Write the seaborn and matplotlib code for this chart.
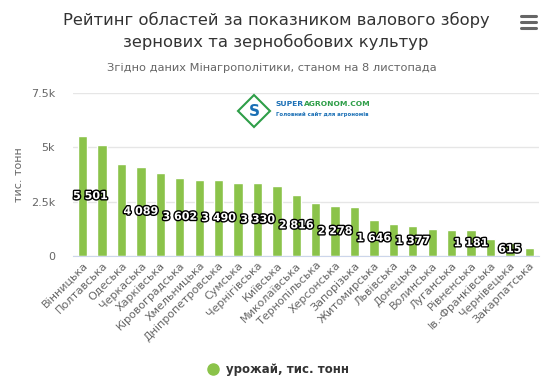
import matplotlib
matplotlib.use('Agg')
import matplotlib.pyplot as plt
import matplotlib.patheffects as pe
from matplotlib.lines import Line2D
from matplotlib.ticker import FuncFormatter, FixedLocator
import pandas as pd
import seaborn as sns

# Data
regions = ['Вінницька', 'Полтавська', 'Одеська', 'Черкаська', 'Харківська',
           'Кіровоградська', 'Хмельницька', 'Дніпропетровська', 'Сумська',
           'Чернігівська', 'Київська', 'Миколаївська', 'Тернопільська',
           'Херсонська', 'Запорізька', 'Житомирська', 'Львівська', 'Донецька',
           'Волинська', 'Луганська', 'Рівненська', 'Ів.-Франківська',
           'Чернівецька', 'Закарпатська']
harvest = [5501, 5090, 4220, 4089, 3810, 3602, 3495, 3490, 3340, 3330, 3210,
           2816, 2430, 2278, 2250, 1646, 1460, 1377, 1230, 1190, 1181, 780,
           615, 380]
# labels that Highcharts kept visible
shown_labels = [0, 3, 5, 7, 9, 11, 13, 15, 17, 20, 22]

df = pd.DataFrame({'region': regions, 'harvest': harvest})

green = '#8bc34a'
sns.set_style('white')
plt.rcParams['font.family'] = ['DejaVu Sans']

W, H = 550, 379
fig = plt.figure(figsize=(W / 100, H / 100), dpi=100)
ax = fig.add_axes([73 / W, 1 - 256 / H, (539 - 73) / W, (256 - 92.7) / H])

sns.barplot(data=df, x='region', y='harvest', color=green, width=0.48,
            saturation=1, ax=ax)

ax.set_xlim(-0.5, len(regions) - 0.5)
ax.set_ylim(0, 7500)
ax.set_yticks([0, 2500, 5000, 7500])
ax.yaxis.set_major_formatter(FuncFormatter(
    lambda v, p: '0' if v == 0 else f'{v / 1000:g}k'))
ax.yaxis.grid(True, color='#e6e6e6', linewidth=1)
ax.set_axisbelow(True)
for s in ['top', 'right', 'left']:
    ax.spines[s].set_visible(False)
ax.spines['bottom'].set_color('#ccd6eb')
ax.tick_params(axis='y', length=0, labelsize=8, labelcolor='#666666', pad=13)
ax.tick_params(axis='x', which='major', length=0, labelsize=8,
               labelcolor='#666666', pad=3)
ax.xaxis.set_minor_locator(FixedLocator([i - 0.5 for i in range(len(regions) + 1)]))
ax.tick_params(axis='x', which='minor', length=7, color='#ccd6eb', width=1)
plt.setp(ax.get_xticklabels(), rotation=45, ha='right', rotation_mode='anchor')
ax.set_xlabel('')
ax.set_ylabel('тис. тонн', color='#666666', fontsize=8, labelpad=5)

# data labels (first one is pushed inside the plot area, like Highcharts does)
for i in shown_labels:
    v = harvest[i]
    x, ha = (i, 'center') if i > 0 else (-0.5, 'left')
    ax.text(x, v / 2, f'{v:,}'.replace(',', ' '), ha=ha, va='center',
            color='white', fontsize=8, fontweight='bold',
            path_effects=[pe.withStroke(linewidth=2, foreground='black')])

# titles
fig.text(276 / W, 1 - 20 / H, 'Рейтинг областей за показником валового збору',
         ha='center', va='center', fontsize=11.8, color='#333333')
fig.text(276 / W, 1 - 42 / H, 'зернових та зернобобових культур',
         ha='center', va='center', fontsize=11.8, color='#333333')
fig.text(272 / W, 1 - 68 / H, 'Згідно даних Мінагрополітики, станом на 8 листопада',
         ha='center', va='center', fontsize=8.2, color='#666666')

# hamburger menu
for dy in (16, 22, 28):
    fig.add_artist(Line2D([521 / W, 536 / W], [1 - dy / H] * 2, color='#666666',
                          linewidth=2.2, transform=fig.transFigure))

# watermark logo
fig.add_artist(Line2D([254 / W], [1 - 111 / H], marker='D', markersize=16,
                      markerfacecolor='white', markeredgecolor='#2e9e48',
                      markeredgewidth=1.5, transform=fig.transFigure))
fig.text(254 / W, 1 - 111 / H, 'S', ha='center', va='center', fontsize=11,
         fontweight='bold', color='#1a6fb5')
t1 = fig.text(276 / W, 1 - 104 / H, 'SUPER', ha='left', va='center',
              fontsize=5.4, fontweight='bold', color='#1a6fb5')
fig.canvas.draw()
bb = t1.get_window_extent()
fig.text(bb.x1 / W, 1 - 104 / H, 'AGRONOM.COM', ha='left', va='center',
         fontsize=5.4, fontweight='bold', color='#2e9e48')
fig.text(276 / W, 1 - 114 / H, 'Головний сайт для агрономів', ha='left',
         va='center', fontsize=3.9, fontweight='bold', color='#1a6fb5')

# legend
fig.add_artist(Line2D([213 / W], [1 - 369 / H], marker='o', markersize=8,
                      color=green, linestyle='', transform=fig.transFigure))
fig.text(226 / W, 1 - 369 / H, 'урожай, тис. тонн', ha='left', va='center',
         fontsize=8.5, fontweight='bold', color='#333333')

fig.savefig('out.png', dpi=100)
